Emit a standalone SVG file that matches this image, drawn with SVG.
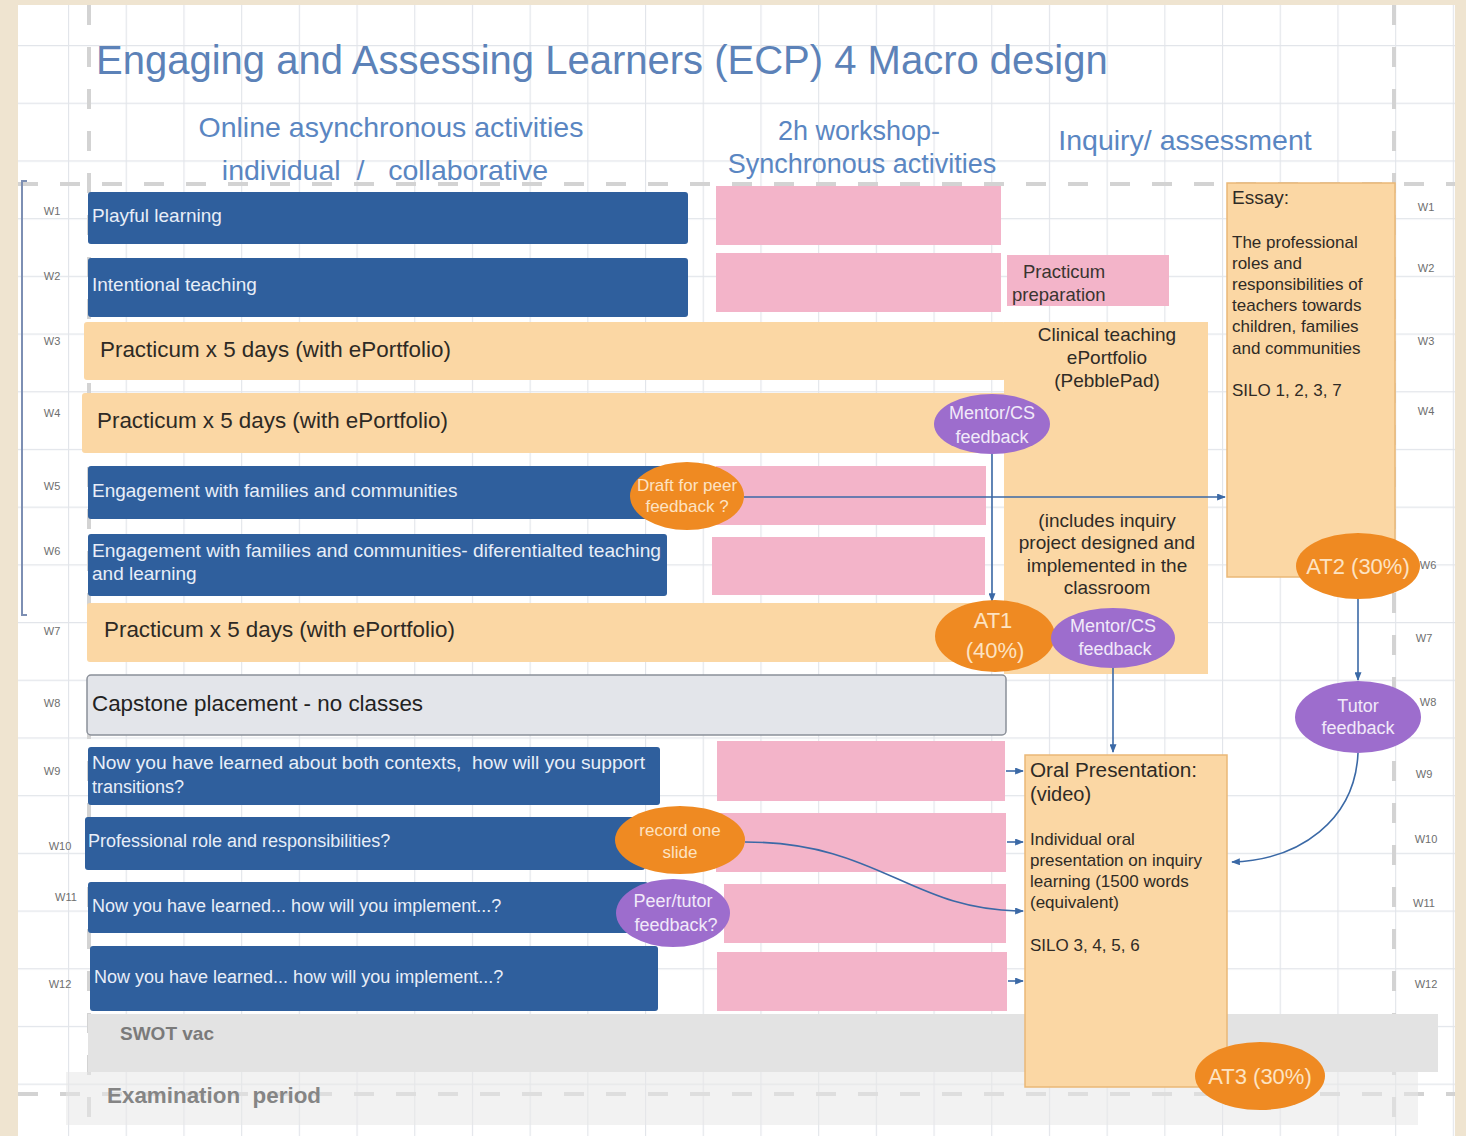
<svg xmlns="http://www.w3.org/2000/svg" width="1466" height="1136" viewBox="0 0 1466 1136">
  <defs>
    <style>
      text { font-family: "Liberation Sans", Arial, sans-serif; }
      .online { fill: #2f5f9d; }
      .sync { fill: #f3b4c9; }
      .peach { fill: #fbd7a4; }
      .peachbox { fill: #fbd7a4; stroke: #eab877; stroke-width: 1.5; }
      .orange { fill: #ef8a22; }
      .purple { fill: #9d6dcd; }
      .bartext { font-size: 19px; fill: #e8eef8; }
      .bartext-s { font-size: 18px; fill: #e8eef8; }
      .prac { font-size: 22.4px; fill: #2e2a24; }
      .dark { font-size: 17px; fill: #2f2b26; }
      .dark-l { font-size: 20px; fill: #2f2b26; }
      .darkm { font-size: 19px; fill: #2f2b26; text-anchor: middle; }
      .oval-o { font-size: 17px; fill: #fde3c2; text-anchor: middle; }
      .oval-ob { font-size: 22px; fill: #fde3c2; text-anchor: middle; }
      .oval-p { font-size: 18px; fill: #f1e9f9; text-anchor: middle; }
      .week { font-size: 11px; fill: #6e6e6e; text-anchor: middle; }
      .head { font-size: 28.5px; fill: #5a86c2; }
      .head-s { font-size: 27px; fill: #5a86c2; text-anchor: middle; }
      .guide { stroke: #d3d3d3; stroke-width: 4; stroke-dasharray: 20 22; fill: none; }
      .conn { stroke: #3b69a6; stroke-width: 1.6; fill: none; }
    </style>
    <pattern id="grid" patternUnits="userSpaceOnUse" x="10.3" y="-12.7" width="57.7" height="57.7">
      <path d="M0,0.5 H57.7 M0.5,0 V57.7" stroke="#e2e5ea" stroke-width="1.3" fill="none"/>
    </pattern>
    <marker id="arrow" viewBox="0 0 10 8" refX="9" refY="4" markerWidth="9" markerHeight="7" markerUnits="userSpaceOnUse" orient="auto">
      <path d="M0,0 L10,4 L0,8 z" fill="#3b69a6"/>
    </marker>
  </defs>

  <!-- page backdrop and gridded sheet -->
  <rect x="0" y="0" width="1466" height="1136" fill="#efe4d0"/>
  <rect x="18" y="5" width="1437" height="1131" fill="#ffffff"/>
  <rect x="18" y="5" width="1437" height="1131" fill="url(#grid)"/>

  <!-- dashed layout guides -->
  <g id="guides">
    <path class="guide" d="M89,5 V1136"/>
    <path class="guide" d="M1394,5 V1136"/>
    <path class="guide" d="M18,184 H1455"/>
    <path class="guide" d="M18,1094 H1455"/>
  </g>

  <!-- bracket marking weeks 1-6 -->
  <path d="M27,181 H22 V615 H27" stroke="#7d8fb3" stroke-width="2" fill="none"/>

  <!-- title and column headings -->
  <g id="headings">
    <text x="96" y="74" font-size="40" fill="#5c82b8">Engaging and Assessing Learners (ECP) 4 Macro design</text>
    <text class="head" x="391" y="137" text-anchor="middle">Online asynchronous activities</text>
    <text class="head" x="385" y="180" text-anchor="middle" xml:space="preserve">individual  /   collaborative</text>
    <text class="head-s" x="859" y="140">2h workshop-</text>
    <text class="head-s" x="862" y="173">Synchronous activities</text>
    <text class="head" x="1185" y="150" text-anchor="middle">Inquiry/ assessment</text>
  </g>

  <!-- week labels -->
  <g id="weeks-left">
    <text class="week" x="52" y="215">W1</text>
    <text class="week" x="52" y="280">W2</text>
    <text class="week" x="52" y="345">W3</text>
    <text class="week" x="52" y="417">W4</text>
    <text class="week" x="52" y="490">W5</text>
    <text class="week" x="52" y="555">W6</text>
    <text class="week" x="52" y="635">W7</text>
    <text class="week" x="52" y="707">W8</text>
    <text class="week" x="52" y="775">W9</text>
    <text class="week" x="60" y="850">W10</text>
    <text class="week" x="66" y="901">W11</text>
    <text class="week" x="60" y="988">W12</text>
  </g>
  <g id="weeks-right">
    <text class="week" x="1426" y="211">W1</text>
    <text class="week" x="1426" y="272">W2</text>
    <text class="week" x="1426" y="345">W3</text>
    <text class="week" x="1426" y="415">W4</text>
    <text class="week" x="1428" y="569">W6</text>
    <text class="week" x="1424" y="642">W7</text>
    <text class="week" x="1428" y="706">W8</text>
    <text class="week" x="1424" y="778">W9</text>
    <text class="week" x="1426" y="843">W10</text>
    <text class="week" x="1424" y="907">W11</text>
    <text class="week" x="1426" y="988">W12</text>
  </g>

  <!-- break weeks -->
  <g id="swot-vac">
    <rect x="88" y="1014" width="1350" height="58" fill="#e3e3e3"/>
    <text x="120" y="1040" font-size="19" font-weight="bold" fill="#7a7a7a">SWOT vac</text>
  </g>
  <g id="exam-period">
    <rect x="66" y="1072" width="1352" height="53" fill="#e8e8e8" opacity="0.55"/>
    <text x="107" y="1103" font-size="22.4" font-weight="bold" fill="#858585" xml:space="preserve">Examination  period</text>
  </g>

  <!-- assessment boxes -->
  <g id="clinical-teaching">
    <rect class="peach" x="1004" y="322" width="204" height="352"/>
    <text class="darkm" x="1107" y="341">Clinical teaching</text>
    <text class="darkm" x="1107" y="364">ePortfolio</text>
    <text class="darkm" x="1107" y="387">(PebblePad)</text>
    <text class="darkm" x="1107" y="527">(includes inquiry</text>
    <text class="darkm" x="1107" y="549">project designed and</text>
    <text class="darkm" x="1107" y="572">implemented in the</text>
    <text class="darkm" x="1107" y="594">classroom</text>
  </g>
  <g id="essay">
    <rect class="peachbox" x="1227" y="183" width="168" height="394"/>
    <text class="dark" x="1232" y="204" style="font-size:19px">Essay:</text>
    <text class="dark" x="1232" y="248">The professional</text>
    <text class="dark" x="1232" y="269">roles and</text>
    <text class="dark" x="1232" y="290">responsibilities of</text>
    <text class="dark" x="1232" y="311">teachers towards</text>
    <text class="dark" x="1232" y="332">children, families</text>
    <text class="dark" x="1232" y="354">and communities</text>
    <text class="dark" x="1232" y="396">SILO 1, 2, 3, 7</text>
  </g>
  <g id="oral-presentation">
    <rect class="peachbox" x="1025" y="755" width="202" height="332"/>
    <text class="dark-l" x="1030" y="777" textLength="167" lengthAdjust="spacingAndGlyphs">Oral Presentation:</text>
    <text class="dark-l" x="1030" y="801">(video)</text>
    <text class="dark" x="1030" y="845">Individual oral</text>
    <text class="dark" x="1030" y="866">presentation on inquiry</text>
    <text class="dark" x="1030" y="887">learning (1500 words</text>
    <text class="dark" x="1030" y="908">(equivalent)</text>
    <text class="dark" x="1030" y="951">SILO 3, 4, 5, 6</text>
  </g>

  <!-- week 1 -->
  <g id="w1-online">
    <rect class="online" x="88" y="192" width="600" height="52" rx="3"/>
    <text class="bartext" x="92" y="222">Playful learning</text>
  </g>
  <g id="w1-workshop"><rect class="sync" x="716" y="186" width="285" height="59"/></g>

  <!-- week 2 -->
  <g id="w2-online">
    <rect class="online" x="88" y="258" width="600" height="59" rx="3"/>
    <text class="bartext" x="92" y="291">Intentional teaching</text>
  </g>
  <g id="w2-workshop"><rect class="sync" x="716" y="253" width="285" height="59"/></g>
  <g id="practicum-preparation">
    <rect class="sync" x="1007" y="255" width="162" height="51"/>
    <text x="1023" y="278" font-size="18.5" fill="#3a3430">Practicum</text>
    <text x="1012" y="301" font-size="18.5" fill="#3a3430">preparation</text>
  </g>

  <!-- weeks 3, 4: practicum -->
  <g id="w3-practicum">
    <rect class="peach" x="84" y="322" width="922" height="58" rx="3"/>
    <text class="prac" x="100" y="357">Practicum x 5 days (with ePortfolio)</text>
  </g>
  <g id="w4-practicum">
    <rect class="peach" x="82" y="393" width="924" height="60" rx="3"/>
    <text class="prac" x="97" y="428">Practicum x 5 days (with ePortfolio)</text>
  </g>

  <!-- week 5 -->
  <g id="w5-online">
    <rect class="online" x="88" y="466" width="595" height="53" rx="3"/>
    <text class="bartext" x="92" y="497">Engagement with families and communities</text>
  </g>
  <g id="w5-workshop"><rect class="sync" x="716" y="466" width="270" height="59"/></g>

  <!-- week 6 -->
  <g id="w6-online">
    <rect class="online" x="88" y="534" width="579" height="62" rx="3"/>
    <text class="bartext" x="92" y="557" textLength="569" lengthAdjust="spacingAndGlyphs">Engagement with families and communities- diferentialted teaching</text>
    <text class="bartext" x="92" y="580">and learning</text>
  </g>
  <g id="w6-workshop"><rect class="sync" x="712" y="537" width="273" height="58"/></g>

  <!-- week 7 -->
  <g id="w7-practicum">
    <rect class="peach" x="87" y="603" width="919" height="59" rx="3"/>
    <text class="prac" x="104" y="637">Practicum x 5 days (with ePortfolio)</text>
  </g>

  <!-- week 8 -->
  <g id="w8-capstone">
    <rect x="87" y="675" width="919" height="60" rx="4" fill="#e3e5ea" stroke="#8b9099" stroke-width="1.5"/>
    <text x="92" y="711" font-size="22.4" fill="#222222">Capstone placement - no classes</text>
  </g>

  <!-- week 9 -->
  <g id="w9-online">
    <rect class="online" x="88" y="747" width="572" height="58" rx="3"/>
    <text class="bartext-s" x="92" y="769" textLength="553" lengthAdjust="spacingAndGlyphs" xml:space="preserve">Now you have learned about both contexts,  how will you support</text>
    <text class="bartext-s" x="92" y="793">transitions?</text>
  </g>
  <g id="w9-workshop"><rect class="sync" x="717" y="741" width="288" height="60"/></g>

  <!-- week 10 -->
  <g id="w10-online">
    <rect class="online" x="85" y="817" width="560" height="53" rx="3"/>
    <text class="bartext-s" x="88" y="847">Professional role and responsibilities?</text>
  </g>
  <g id="w10-workshop"><rect class="sync" x="716" y="813" width="290" height="59"/></g>

  <!-- week 11 -->
  <g id="w11-online">
    <rect class="online" x="88" y="882" width="560" height="51" rx="3"/>
    <text class="bartext-s" x="92" y="912">Now you have learned... how will you implement...?</text>
  </g>
  <g id="w11-workshop"><rect class="sync" x="724" y="884" width="282" height="59"/></g>

  <!-- week 12 -->
  <g id="w12-online">
    <rect class="online" x="90" y="946" width="568" height="65" rx="3"/>
    <text class="bartext-s" x="94" y="983">Now you have learned... how will you implement...?</text>
  </g>
  <g id="w12-workshop"><rect class="sync" x="717" y="952" width="290" height="59"/></g>

  <!-- connectors -->
  <g id="connectors">
    <path class="conn" d="M992,454 V601" marker-end="url(#arrow)"/>
    <path class="conn" d="M744,497 H1225" marker-end="url(#arrow)"/>
    <path class="conn" d="M1113,668 V752" marker-end="url(#arrow)"/>
    <path class="conn" d="M1358,599 V680" marker-end="url(#arrow)"/>
    <path class="conn" d="M1358,753 C1355,820 1300,860 1232,862" marker-end="url(#arrow)"/>
    <path class="conn" d="M745,842 C880,842 910,911 1023,911" marker-end="url(#arrow)"/>
    <path class="conn" d="M1006,771 H1023" marker-end="url(#arrow)"/>
    <path class="conn" d="M1007,842 H1023" marker-end="url(#arrow)"/>
    <path class="conn" d="M1008,981 H1023" marker-end="url(#arrow)"/>
  </g>

  <!-- feedback and assessment ovals -->
  <g id="mentor-feedback-1">
    <ellipse class="purple" cx="992" cy="424" rx="58" ry="30"/>
    <text class="oval-p" x="992" y="419">Mentor/CS</text>
    <text class="oval-p" x="992" y="443">feedback</text>
  </g>
  <g id="draft-peer-feedback">
    <ellipse class="orange" cx="687" cy="496" rx="57" ry="34"/>
    <text class="oval-o" x="687" y="491">Draft for peer</text>
    <text class="oval-o" x="687" y="512">feedback ?</text>
  </g>
  <g id="at1">
    <ellipse class="orange" cx="995" cy="636" rx="60" ry="36"/>
    <text class="oval-ob" x="993" y="628">AT1</text>
    <text class="oval-ob" x="995" y="658">(40%)</text>
  </g>
  <g id="mentor-feedback-2">
    <ellipse class="purple" cx="1113" cy="638" rx="62" ry="30"/>
    <text class="oval-p" x="1113" y="632">Mentor/CS</text>
    <text class="oval-p" x="1115" y="655">feedback</text>
  </g>
  <g id="at2">
    <ellipse class="orange" cx="1358" cy="566" rx="62" ry="33"/>
    <text class="oval-ob" x="1358" y="574">AT2 (30%)</text>
  </g>
  <g id="tutor-feedback">
    <ellipse class="purple" cx="1358" cy="717" rx="63" ry="36"/>
    <text class="oval-p" x="1358" y="712">Tutor</text>
    <text class="oval-p" x="1358" y="734">feedback</text>
  </g>
  <g id="record-slide">
    <ellipse class="orange" cx="680" cy="840" rx="65" ry="34"/>
    <text class="oval-o" x="680" y="836">record one</text>
    <text class="oval-o" x="680" y="858">slide</text>
  </g>
  <g id="peer-tutor-feedback">
    <ellipse class="purple" cx="673" cy="913" rx="57" ry="34"/>
    <text class="oval-p" x="673" y="907">Peer/tutor</text>
    <text class="oval-p" x="676" y="931">feedback?</text>
  </g>
  <g id="at3">
    <ellipse class="orange" cx="1260" cy="1076" rx="65" ry="34"/>
    <text class="oval-ob" x="1260" y="1084">AT3 (30%)</text>
  </g>
</svg>
